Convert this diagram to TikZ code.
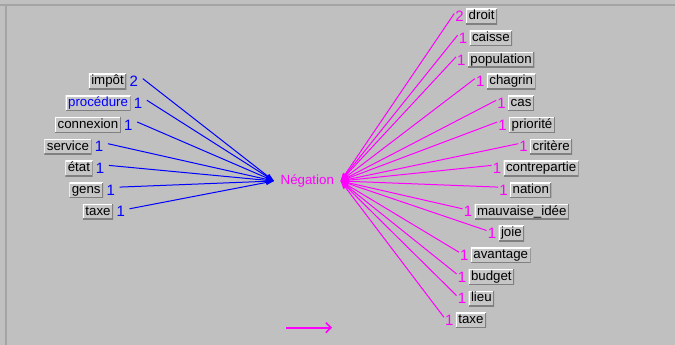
\documentclass[tikz,border=0pt]{standalone}
\usepackage{fontspec}
\setmainfont{Liberation Sans}
\usetikzlibrary{arrows.meta}
\definecolor{bg}{HTML}{C0C0C0}
\definecolor{boxfill}{HTML}{C6C6C6}
\definecolor{boxdark}{HTML}{808080}
\definecolor{framec}{HTML}{A4A4A4}
\definecolor{mag}{HTML}{FF00FF}
\definecolor{blu}{HTML}{0000FF}
\tikzset{
  lbl/.style={fill=boxfill, inner xsep=2.5pt, inner ysep=1.25pt,
    text height=9.7pt, text depth=3pt,
    font=\fontsize{13.3}{15}\selectfont,
    path picture={
      \draw[white,line width=2pt] (path picture bounding box.south west) |- (path picture bounding box.north east);
      \draw[boxdark,line width=2pt] (path picture bounding box.south west) -| (path picture bounding box.north east);
    }},
  num/.style={inner sep=0pt, font=\fontsize{15}{17}\selectfont},
  blines/.style={blu, line width=1pt, -{Triangle[length=8pt,width=5pt]}},
  mlines/.style={mag, line width=1pt, -{Triangle[length=8pt,width=5pt]}},
  legarrow/.style={mag, line width=1.6pt, -{Straight Barb[length=5pt,width=10pt]}}
}
\begin{document}
\begin{tikzpicture}[x=1pt,y=-1pt]
\useasboundingbox (0,0) rectangle (675,345);
\fill[bg] (0,0) rectangle (675,345);
\fill[framec] (0,4) rectangle (675,6);
\fill[framec] (5,4) rectangle (6.5,345);

\node[text=mag, font=\fontsize{13.3}{15}\selectfont, inner xsep=6.5pt, inner ysep=1pt] (neg) at (307.3,181) {Négation};

% left side
\foreach \k/\xe/\t/\n/\c in {3/126.5/impôt/2/black, 4/130.7/procédure/1/blu, 5/121/connexion/1/black, 6/91.7/service/1/black, 7/92.7/état/1/black, 8/103.3/gens/1/black, 9/113.3/taxe/1/black}{
  \node[lbl, anchor=east, text=\c] (L\k) at (\xe,{16.5+21.7*\k}) {\t};
  \node[num, text=blu, anchor=west] (LN\k) at ([xshift=3pt]L\k.east) {\n};
  \draw[blines] ([xshift=4.5pt,yshift=3pt]LN\k.east) -- (neg.west);
}

% right side
\foreach \k/\xw/\t/\n in {0/466/droit/2, 1/469.3/caisse/1, 2/467.7/population/1, 3/486.7/chagrin/1, 4/508/cas/1, 5/509/priorité/1, 6/530/critère/1, 7/503.3/contrepartie/1, 8/510/nation/1, 9/474.3/mauvaise\_idée/1, 10/498.3/joie/1, 11/470.7/avantage/1, 12/468.3/budget/1, 13/468.3/lieu/1, 14/455.7/taxe/1}{
  \node[lbl, anchor=west] (R\k) at (\xw,{16.5+21.7*\k}) {\t};
  \node[num, text=mag, anchor=east] (RN\k) at ([xshift=-2pt]R\k.west) {\n};
  \draw[mlines] ([xshift=-1pt,yshift=3pt]RN\k.west) -- (neg.east);
}

% legend arrow
\coordinate (la) at (286,327.7);
\coordinate (lb) at (332,327.7);
\draw[legarrow] (la) -- (lb);
\end{tikzpicture}
\end{document}
